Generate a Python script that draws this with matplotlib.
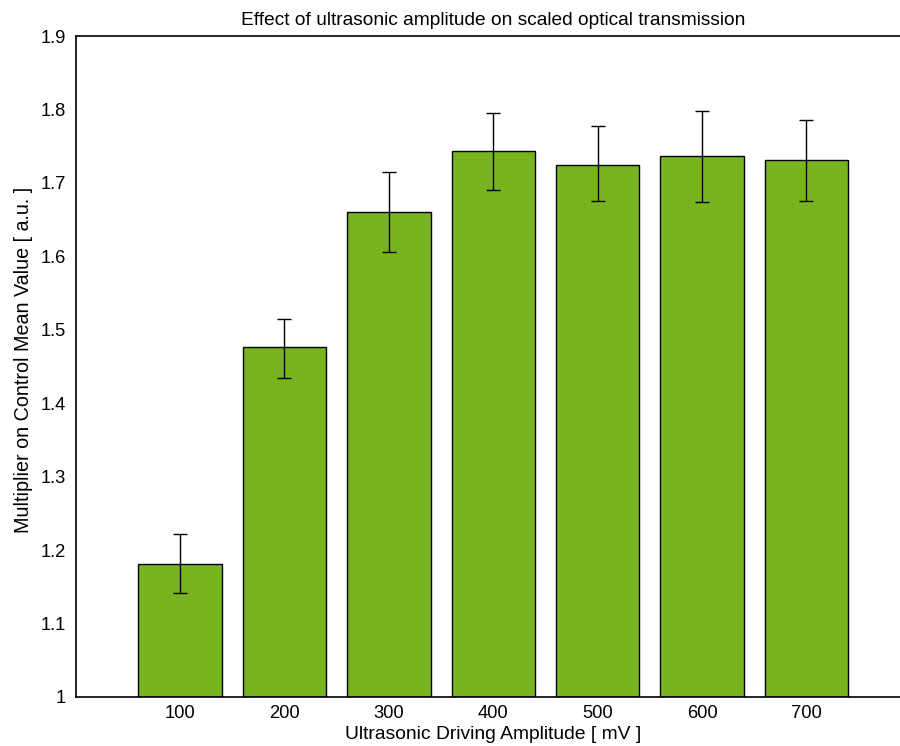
import matplotlib
matplotlib.use("Agg")
import matplotlib.pyplot as plt

# Driving amplitude (mV) and measured transmission multiplier with error
amplitudes = [100, 200, 300, 400, 500, 600, 700]
multiplier = [1.181, 1.476, 1.661, 1.744, 1.725, 1.736, 1.731]
err_low = [0.039, 0.041, 0.055, 0.054, 0.049, 0.062, 0.055]
err_high = [0.041, 0.039, 0.054, 0.051, 0.052, 0.062, 0.054]
yticks = [1, 1.1, 1.2, 1.3, 1.4, 1.5, 1.6, 1.7, 1.8, 1.9]
ytick_labels = ["1", "1.1", "1.2", "1.3", "1.4", "1.5", "1.6", "1.7", "1.8", "1.9"]

plt.rcParams["font.family"] = ["Liberation Sans", "DejaVu Sans"]

fig = plt.figure(figsize=(9.0, 7.46), dpi=100)
ax = fig.add_axes([0.0841, 0.0657, 0.928, 0.886])

ax.bar(amplitudes, [m - 1 for m in multiplier], bottom=1, width=80,
       color="#77b420", edgecolor="black", linewidth=1.0, zorder=2)
ax.errorbar(amplitudes, multiplier, yerr=[err_low, err_high], fmt="none",
            ecolor="black", elinewidth=1.0, capsize=5, capthick=1.0, zorder=3)

ax.set_xlim(0, 800)
ax.set_ylim(1, 1.9)
ax.set_xticks(amplitudes)
ax.set_xticklabels([str(a) for a in amplitudes])
ax.set_yticks(yticks)
ax.set_yticklabels(ytick_labels)
ax.tick_params(length=0, labelsize=13.2)
ax.tick_params(axis="x", pad=6)
ax.tick_params(axis="y", pad=7)

for side in ["left", "bottom", "top"]:
    ax.spines[side].set_linewidth(1.2)
ax.spines["right"].set_visible(False)

ax.set_title("Effect of ultrasonic amplitude on scaled optical transmission",
             fontsize=13.8, pad=8)
ax.set_xlabel("Ultrasonic Driving Amplitude [ mV ]", fontsize=13.9, labelpad=3)
ax.set_ylabel("Multiplier on Control Mean Value [ a.u. ]", fontsize=14.2)
ax.yaxis.set_label_coords(-0.051, 0.51)

fig.savefig("out.png", dpi=100)
